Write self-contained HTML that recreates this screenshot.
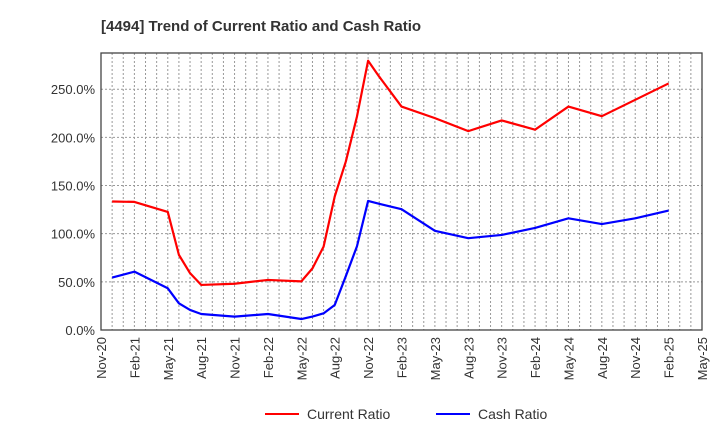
<!DOCTYPE html>
<html><head><meta charset="utf-8"><style>
body{margin:0;background:#fff;font-family:"Liberation Sans",sans-serif}
svg text{font-family:"Liberation Sans",sans-serif}
</style></head><body>
<svg id="chart" width="720" height="440">
<text x="101" y="31" font-size="15" font-weight="bold" fill="#333">[4494]  Trend of Current Ratio and Cash Ratio</text>
<g id="grid"></g><g id="axes"></g><g id="series"></g>
<g>
<line x1="265" y1="414" x2="299" y2="414" stroke="#f00" stroke-width="2"/>
<text x="307" y="419" font-size="14" fill="#333">Current Ratio</text>
<line x1="436" y1="414" x2="470" y2="414" stroke="#00f" stroke-width="2"/>
<text x="478" y="419" font-size="14" fill="#333">Cash Ratio</text>
</g>
</svg>
<script>
const monthIdx=[1,3,6,7,8,9,12,15,18,19,20,21,22,23,24,25,27,30,33,36,39,42,45,48,51];
const currentRatio=[133.4,133,122.6,78,59,46.8,48,52,50.5,64,86.6,138.6,175,221.7,279.6,263,232,220,206.5,217.6,208,232,222,239,256];
const cashRatio=[54.4,60.6,43.3,27.7,20.8,16.6,13.9,16.6,11.4,13.9,17.3,26,56,87,134,131,125.4,103,95.3,98.7,106,116,110,116,124];
const yTicks=[0,50,100,150,200,250];
const xTickLabels=["Nov-20","Feb-21","May-21","Aug-21","Nov-21","Feb-22","May-22","Aug-22","Nov-22","Feb-23","May-23","Aug-23","Nov-23","Feb-24","May-24","Aug-24","Nov-24","Feb-25","May-25"];
const L=101,R=702,T=53,B=330,months=54,yMax=287.6;
const xs=m=>L+m*(R-L)/months, ys=v=>B-v*(B-T)/yMax;
const NS="http://www.w3.org/2000/svg";
function mk(tag,attrs,parent){const e=document.createElementNS(NS,tag);for(const k in attrs)e.setAttribute(k,attrs[k]);parent.appendChild(e);return e;}
const grid=document.getElementById('grid'),axes=document.getElementById('axes'),ser=document.getElementById('series');
for(let m=1;m<months;m++){const l=mk('line',{x1:xs(m),x2:xs(m),y1:T,y2:B,stroke:'#999','stroke-dasharray':'2,2'},grid);

}
yTicks.forEach(v=>{if(v>0){const l=mk('line',{x1:L,x2:R,y1:ys(v),y2:ys(v),stroke:'#999','stroke-dasharray':'2,2'},grid);

}
const t=mk('text',{x:L-6,y:ys(v)+5,'font-size':13,fill:'#333','text-anchor':'end'},axes);t.textContent=v.toFixed(1)+'%';

});
xTickLabels.forEach((s,i)=>{const x=xs(i*3);const t=mk('text',{x:0,y:0,'font-size':13,fill:'#333','text-anchor':'end',transform:`translate(${x+5},${B+7}) rotate(-90)`},axes);t.textContent=s;

});
const fr=mk('rect',{x:L,y:T,width:R-L,height:B-T,fill:'none',stroke:'#444','stroke-width':1.3},axes);


function line(vals,color,name){const p=mk('polyline',{points:vals.map((v,i)=>xs(monthIdx[i])+','+ys(v)).join(' '),fill:'none',stroke:color,'stroke-width':2.2,'stroke-linejoin':'round'},ser);

}
line(currentRatio,'#f00','current-ratio-line');
line(cashRatio,'#00f','cash-ratio-line');
</script>
</body></html>
